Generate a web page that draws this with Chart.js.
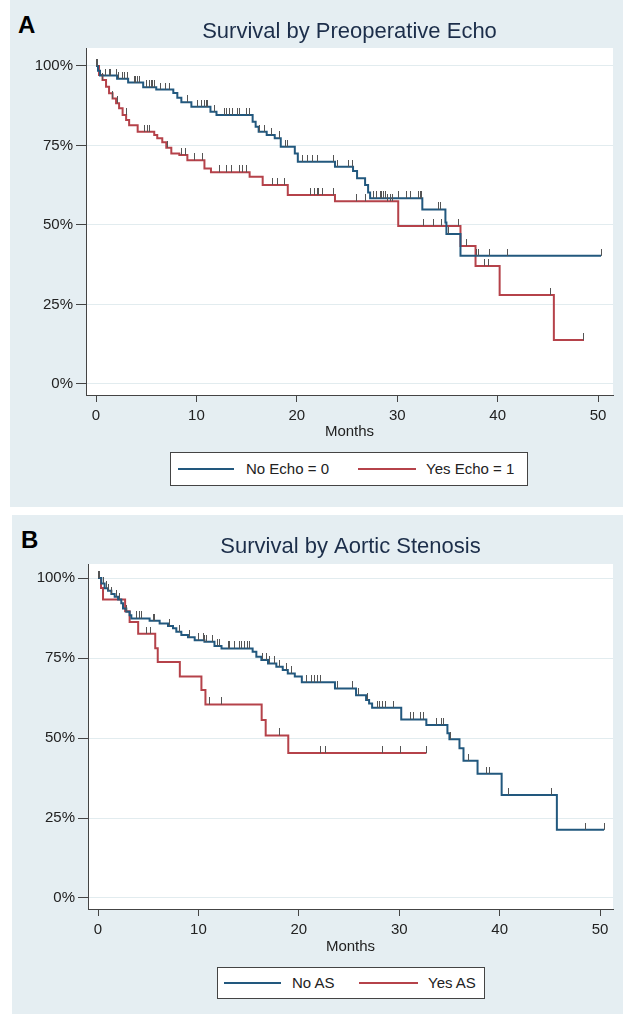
<!DOCTYPE html>
<html>
<head>
<meta charset="utf-8">
<script src="https://cdn.jsdelivr.net/npm/chart.js@4.4.0/dist/chart.umd.min.js"></script>
<style>
  body { margin: 0; background: #fff; width: 623px; height: 1014px; position: relative; overflow: hidden;
         font-family: 'Liberation Sans', Arial, sans-serif; }
  .panel { position: absolute; background: #e5eef2; }
  #panelA { left: 10px; top: 0; width: 613px; height: 507px; }
  #panelB { left: 12px; top: 515px; width: 611px; height: 499px; }
  .letter { position: absolute; top: 13px; font-weight: bold; font-size: 24px; line-height: 24px; color: #000; }
  .panel canvas { position: absolute; left: 0; top: 0; }
  .legend { position: absolute; top: 452px; background: #fff; border: 1px solid #444; box-sizing: border-box;
            font-size: 15px; color: #222; }
  .legend span { position: absolute; top: 0; white-space: nowrap; }
  .legend .ln { height: 2px; }
</style>
</head>
<body>
<div class="panel" id="panelA">
  <div class="letter" style="left:8px">A</div>
  <canvas id="chartA" width="613" height="445"></canvas>
  <div class="legend" id="legendA" style="left:160px; width:358px; height:34px; line-height:32px;"></div>
</div>
<div class="panel" id="panelB">
  <div class="letter" style="left:9px">B</div>
  <canvas id="chartB" width="611" height="445"></canvas>
  <div class="legend" id="legendB" style="left:205px; width:268px; height:32px; line-height:30px;"></div>
</div>
<script>
// ---- Panel A: survival by preoperative echo (months, % surviving) ----
const echoNoTime = [0, 0.2, 0.4, 2.1, 3.2, 4.7, 6.0, 7.7, 8.1, 8.5, 9.5, 11.4, 12.0, 15.6, 15.9, 16.2, 17.0, 17.8, 18.4, 19.8, 20.1, 23.8, 25.6, 26.0, 26.8, 27.1, 27.3, 32.5, 34.8, 34.9, 36.3, 50.3];
const echoNoSurv = [100, 98.5, 97.0, 96.0, 94.8, 93.3, 92.6, 91.5, 90.0, 88.6, 87.2, 85.6, 84.6, 82.5, 80.9, 79.3, 78.3, 77.3, 74.6, 72.5, 69.9, 68.3, 67.0, 64.7, 62.6, 60.2, 58.4, 54.9, 50.8, 47.2, 40.3, 40.3];
const echoYesTime = [0, 0.3, 0.65, 1.0, 1.3, 1.65, 2.0, 2.3, 2.65, 3.0, 3.3, 4.15, 5.8, 6.1, 6.6, 7.0, 7.5, 8.3, 9.1, 10.8, 11.45, 15.3, 16.6, 19.1, 23.8, 30.1, 36.3, 37.8, 40.2, 45.6, 48.6];
const echoYesSurv = [100, 97.2, 95.6, 93.5, 91.4, 89.8, 88.3, 86.7, 84.6, 83.0, 81.4, 79.3, 78.3, 77.3, 76.0, 74.3, 72.5, 72.0, 70.4, 67.8, 66.6, 65.2, 62.6, 59.4, 57.5, 49.7, 43.4, 37.1, 28.0, 13.8, 13.8];
const echoNoCensor = [0.05, 0.1, 0.15, 0.93, 1.33, 1.49, 2.09, 2.26, 2.66, 2.82, 3.15, 3.82, 3.98, 4.15, 4.32, 4.98, 5.31, 5.48, 5.64, 5.81, 6.47, 6.97, 7.3, 9.13, 10.1, 10.46, 10.79, 10.96, 11.12, 11.79, 12.78, 12.95, 13.28, 13.61, 14.1, 14.3, 14.94, 15.27, 16.27, 16.77, 17.43, 18.26, 18.92, 19.09, 20.6, 21.1, 21.6, 22.1, 23.7, 24.1, 25.1, 25.5, 27.6, 27.95, 28.3, 28.45, 28.6, 28.8, 30.1, 30.9, 31.3, 32.1, 32.3, 32.4, 34.1, 34.3, 35.1, 37.9, 38.1, 39.2, 41.0, 50.3];
const echoYesCensor = [0.1, 0.66, 1.66, 2.16, 2.99, 4.81, 5.14, 5.31, 7.14, 8.47, 8.96, 9.8, 10.6, 12.3, 12.95, 13.45, 14.3, 14.6, 14.94, 17.6, 18.1, 18.76, 21.4, 21.75, 22.1, 22.2, 22.6, 23.7, 25.97, 26.8, 29.0, 29.3, 29.5, 32.6, 33.6, 34.4, 36.1, 36.9, 38.7, 39.1, 45.3, 48.6];

// ---- Panel B: survival by aortic stenosis ----
const asNoTime = [0, 0.33, 0.66, 1.0, 1.33, 1.66, 2.0, 2.32, 2.49, 2.82, 3.15, 3.32, 5.14, 6.14, 6.97, 7.47, 7.8, 8.3, 8.96, 9.63, 10.6, 11.6, 12.3, 15.4, 15.77, 16.27, 16.93, 17.76, 18.4, 18.9, 19.6, 20.3, 23.6, 25.7, 26.7, 27.0, 27.3, 30.2, 32.7, 34.8, 35.0, 36.0, 36.4, 37.8, 40.2, 45.7, 50.4];
const asNoSurv = [100, 98.3, 96.8, 96.0, 95.0, 94.2, 93.3, 92.1, 90.5, 89.5, 88.4, 87.4, 86.7, 85.8, 85.0, 84.3, 83.2, 82.2, 81.5, 80.6, 80.1, 78.8, 78.0, 77.0, 75.4, 74.4, 73.3, 72.3, 71.3, 70.2, 69.2, 67.4, 65.5, 63.4, 61.9, 60.8, 59.5, 55.8, 54.1, 51.5, 49.6, 46.8, 42.9, 38.8, 32.2, 21.3, 21.3];
const asYesTime = [0, 0.3, 0.5, 2.7, 3.15, 4.0, 5.7, 5.95, 8.15, 10.3, 10.7, 16.3, 16.7, 18.95, 32.7];
const asYesSurv = [100, 96.9, 93.3, 89.6, 86.3, 82.6, 78.1, 73.8, 69.2, 65.0, 60.5, 55.6, 50.8, 45.3, 45.3];
const asNoCensor = [0.05, 0.1, 0.5, 0.83, 1.06, 1.39, 1.83, 2.16, 2.82, 3.82, 4.15, 4.3, 5.48, 5.64, 7.14, 8.1, 9.13, 9.96, 10.46, 10.6, 10.8, 11.45, 11.95, 12.1, 12.95, 13.1, 13.6, 14.1, 14.3, 14.6, 14.9, 15.1, 16.4, 16.77, 17.1, 17.6, 18.1, 18.8, 19.26, 20.75, 21.25, 21.6, 21.9, 22.2, 23.9, 25.3, 25.9, 26.8, 27.8, 28.0, 28.3, 28.6, 29.4, 31.1, 31.4, 32.1, 32.4, 33.7, 34.2, 34.4, 35.1, 36.9, 38.7, 39.0, 40.9, 45.2, 48.6, 50.4];
const asYesCensor = [4.85, 5.2, 11.1, 12.3, 18.1, 22.2, 22.7, 28.3, 30.1, 32.7];

const xTicks = [0, 10, 20, 30, 40, 50];
const yTicks = [0, 25, 50, 75, 100];

const blue = '#22587e';
const red = '#b5424a';
const fontFamily = "'Liberation Sans', Arial, sans-serif";

// small vertical tick, upper half only, so it sits on top of the curve
function censorMark(color) {
  const c = document.createElement('canvas');
  c.width = 1;
  c.height = 14;
  const g = c.getContext('2d');
  g.fillStyle = color;
  g.fillRect(0, 0, 1, 7);
  return c;
}
const mark = censorMark('#555');

function levelAt(times, surv, t) {
  let v = surv[0];
  for (let i = 0; i < times.length; i++) {
    if (times[i] <= t) v = surv[i];
  }
  return v;
}

function stepLine(times, surv, color) {
  return {
    data: times.map((t, i) => ({ x: t, y: surv[i] })),
    borderColor: color,
    borderWidth: 2,
    stepped: true,
    pointRadius: 0,
    fill: false,
    order: 1
  };
}

function censorSet(censor, times, surv) {
  return {
    data: censor.map(t => ({ x: t, y: levelAt(times, surv, t) })),
    showLine: false,
    pointStyle: mark,
    pointRadius: 3,
    order: 0
  };
}

// white plot region on the tinted panel
const plotBg = {
  id: 'plotBg',
  beforeDraw(chart) {
    const a = chart.chartArea;
    const ctx = chart.ctx;
    ctx.save();
    ctx.fillStyle = '#fff';
    ctx.fillRect(a.left, a.top, a.right - a.left, a.bottom - a.top);
    ctx.restore();
  }
};

function kmChart(id, title, datasets, xMax, yMin, yMax, topGap, axisH) {
  new Chart(document.getElementById(id), {
    type: 'line',
    data: { datasets: datasets },
    plugins: [plotBg],
    options: {
      responsive: false,
      animation: false,
      events: [],
      layout: { padding: { left: 0, right: 10, top: 0, bottom: 0 } },
      plugins: {
        legend: { display: false },
        tooltip: { enabled: false },
        title: {
          display: true,
          text: title,
          fullSize: false,
          color: '#1c2e4a',
          font: { family: fontFamily, size: 22, weight: 'normal', lineHeight: 1.2 },
          padding: { top: 19, bottom: topGap - 19 - 26.4 }
        }
      },
      scales: {
        x: {
          type: 'linear',
          min: -0.996,
          max: xMax,
          afterBuildTicks: s => { s.ticks = xTicks.map(v => ({ value: v })); },
          afterFit: s => { s.height = axisH; },
          grid: { drawOnChartArea: false, tickLength: 7, tickColor: '#444' },
          border: { color: '#444', width: 1 },
          ticks: { color: '#222', font: { family: fontFamily, size: 15 }, padding: 5, maxRotation: 0 },
          title: { display: true, text: 'Months', color: '#222', font: { family: fontFamily, size: 15 }, padding: { top: 0, bottom: 4 } }
        },
        y: {
          type: 'linear',
          min: yMin,
          max: yMax,
          afterBuildTicks: s => { s.ticks = yTicks.map(v => ({ value: v })); },
          afterFit: s => { s.width = 76; },
          grid: { color: '#e2ecef', tickLength: 10, tickColor: '#444' },
          border: { color: '#444', width: 1 },
          ticks: { color: '#222', font: { family: fontFamily, size: 15 }, padding: 3, callback: v => v + '%' }
        }
      }
    }
  });
}

kmChart('chartA', 'Survival by Preoperative Echo', [
  censorSet(echoNoCensor, echoNoTime, echoNoSurv),
  censorSet(echoYesCensor, echoYesTime, echoYesSurv),
  stepLine(echoNoTime, echoNoSurv, blue),
  stepLine(echoYesTime, echoYesSurv, red)
], 51.49, -3.46, 105.66, 48, 50);

kmChart('chartB', 'Survival by Aortic Stenosis', [
  censorSet(asNoCensor, asNoTime, asNoSurv),
  censorSet(asYesCensor, asYesTime, asYesSurv),
  stepLine(asNoTime, asNoSurv, blue),
  stepLine(asYesTime, asYesSurv, red)
], 51.29, -3.44, 104.4, 49, 51);

// boxed legends under each plot
function legendBox(id, items) {
  const box = document.getElementById(id);
  items.forEach(it => {
    const ln = document.createElement('span');
    ln.className = 'ln';
    ln.style.cssText = `left:${it.line}px; width:${it.w}px; top:calc(50% - 1px); background:${it.color};`;
    const tx = document.createElement('span');
    tx.style.left = it.text + 'px';
    tx.textContent = it.label;
    box.appendChild(ln);
    box.appendChild(tx);
  });
}
legendBox('legendA', [
  { label: 'No Echo = 0', color: blue, line: 7, w: 56, text: 75 },
  { label: 'Yes Echo = 1', color: red, line: 187, w: 58, text: 255 }
]);
legendBox('legendB', [
  { label: 'No AS', color: blue, line: 6, w: 57, text: 74 },
  { label: 'Yes AS', color: red, line: 141, w: 59, text: 210 }
]);
</script>
</body>
</html>
